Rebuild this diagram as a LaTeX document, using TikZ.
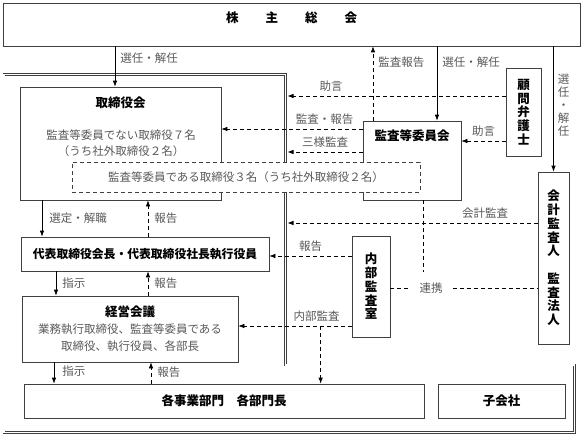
\documentclass[tikz,border=0pt]{standalone}
\usepackage{fontspec}
\setmainfont{Noto Sans CJK JP}
\usetikzlibrary{arrows.meta}
\newcommand{\boxfont}{\bfseries\fontsize{12.5}{13.75}\selectfont}
\newcommand{\tagfont}{\fontsize{11.5}{16}\selectfont}
\begin{document}
\begin{tikzpicture}[x=1pt,y=-1pt,line width=0.7pt,>={Latex[length=6pt,width=4.5pt]},
box/.style={draw=black!75,rectangle,inner sep=0pt,font=\boxfont},
tag/.style={text=black!65,font=\tagfont,inner sep=2pt},
dlink/.style={dash pattern=on 4pt off 3pt},
frame/.style={draw=black!75,double,double distance=1.6pt,line width=0.6pt}]
\useasboundingbox (0,0) rectangle (583,436);
% company frame
\draw[frame] (4,74.5) -- (285.5,74.5) -- (285.5,365) -- (574.5,365) -- (574.5,432.5) -- (4,432.5) -- cycle;
\coordinate (frmR) at (287.5,74.5);

\draw (291.5,24.5) node[box,minimum width=577pt,text height=20pt,text depth=23pt] (gm) {株\hspace{27pt}主\hspace{27pt}総\hspace{27pt}会};
\draw (120.5,143.5) node[box,minimum width=201pt,text height=20.75pt,text depth=92.25pt] (bod) {取締役会};
\draw (121,143) node[tag,align=center] (bodtxt) {監査等委員でない取締役７名\\（うち社外取締役２名）};
\draw (412,160.5) node[box,minimum width=98pt,text height=19pt,text depth=60pt] (aud) {監査等委員会};
\draw (523.5,112) node[box,minimum width=35pt,minimum height=88pt,align=center] (adv) {顧\\問\\弁\\護\\士};
\draw (553.5,258) node[box,minimum width=31pt,minimum height=172pt,align=center] (acc) {会\\計\\監\\査\\人\\[13.75pt]監\\査\\法\\人};
\draw (371,286.5) node[box,minimum width=38pt,minimum height=101pt,align=center] (iad) {内\\部\\監\\査\\室};
\draw (145,254) node[box,minimum width=248pt,minimum height=34pt,font=\bfseries\fontsize{11.8}{13}\selectfont] (rep) {代表取締役会長・代表取締役社長執行役員};
\draw (130,329) node[box,minimum width=216pt,minimum height=66pt,align=center,font=\fontsize{11.5}{17}\selectfont] (mtg) {{\boxfont 経営会議}\\{\color{black!65}業務執行取締役、監査等委員である}\\{\color{black!65}取締役、執行役員、各部長}};
\draw (224,401) node[box,minimum width=400pt,minimum height=34pt] (dept) {各事業部門　各部門長};
\draw (501.5,401) node[box,minimum width=127pt,minimum height=34pt] (sub) {子会社};
\draw (246,177) node[box,dlink,fill=white,minimum width=348pt,minimum height=30pt,tag] (aud3) {監査等委員である取締役３名（うち社外取締役２名）};
\draw (431,288) node[tag,inner xsep=10pt,inner ysep=10pt] (coop) {連携};

% appointments
\draw[->] ([xshift=-5.5pt]bod.north |- gm.south) -- node[tag,right=3pt,pos=0.29] (selB) {選任・解任} ([xshift=-5.5pt]bod.north);
\draw[->] ([xshift=25pt]aud.north |- gm.south) -- node[tag,right=3pt,pos=0.21] (selA) {選任・解任} ([xshift=25pt]aud.north);
\draw[dlink,->] ([xshift=-39pt]aud.north) -- node[tag,right=3pt,pos=0.79] (rptG) {監査報告} ([xshift=-39pt]aud.north |- gm.south);
\draw[->] (acc.north |- gm.south) -- node[tag,right=2pt,align=center,pos=0.47,font=\fontsize{11.5}{13}\selectfont] (selC) {選\\任\\・\\解\\任} (acc.north);

% audit and advice
\draw[dlink,->] ([yshift=16pt]adv.west) -- node[tag,above=2pt,pos=0.8] (advA) {助言} ([yshift=16pt]adv.west -| frmR);
\draw[dlink,->] ([yshift=31.5pt]aud.west) -- node[tag,above=2pt,pos=0.27] (audA) {監査・報告} ([yshift=31.5pt]aud.west -| bod.east);
\draw[dlink,->] ([yshift=8.5pt]aud.west) -- node[tag,above=2pt] (audB) {三様監査} ([yshift=8.5pt]aud.west -| frmR);
\draw[dlink,->] ([yshift=19.5pt]aud.east -| adv.west) -- node[tag,above=2pt] (advB) {助言} ([yshift=19.5pt]aud.east);
\draw[dlink,->] ([yshift=35pt]acc.west) -- node[tag,above=2pt,pos=0.21] (accA) {会計監査} ([yshift=35pt]acc.west -| frmR);
\draw[dlink,->] ([yshift=30.5pt]iad.west) -- node[tag,above=2pt] (iadA) {報告} ([yshift=30.5pt]iad.west -| rep.east);
\draw[dlink,->] ([yshift=-39.5pt]iad.west) -- node[tag,above=2pt,pos=0.31] (iadB) {内部監査} ([yshift=-39.5pt]iad.west -| mtg.east);
\path ([yshift=-39.5pt]iad.west) ++(-31,0) coordinate (iadC);
\draw[dlink,->] (iadC) -- (iadC |- dept.north);
% liaison
\draw[dlink] (coop.west -| iad.east) -- (coop.west);
\draw[dlink] (coop.east) -- (coop.east -| acc.west);
\draw[dlink] ([xshift=11pt]aud.south) -- ([xshift=11pt]aud.south |- coop.north);

% line of command
\draw[->] ([xshift=-78.5pt]bod.south) -- node[tag,right=5pt] (selD) {選定・解職} ([xshift=-78.5pt]bod.south |- rep.north);
\draw[dlink,->] ([xshift=27.5pt]bod.south |- rep.north) -- node[tag,right=4pt] (rptA) {報告} ([xshift=27.5pt]bod.south);
\draw[->] ([xshift=-89pt]rep.south) -- node[tag,right=4pt] (ordA) {指示} ([xshift=-89pt]rep.south |- mtg.north);
\draw[dlink,->] ([xshift=3pt]rep.south |- mtg.north) -- node[tag,right=4pt] (rptB) {報告} ([xshift=3pt]rep.south);
\draw[->] ([xshift=-76pt]mtg.south) -- node[tag,right=6pt,pos=0.4] (ordB) {指示} ([xshift=-76pt]mtg.south |- dept.north);
\draw[dlink,->] ([xshift=21pt]mtg.south |- dept.north) -- node[tag,right=4pt,pos=0.55] (rptC) {報告} ([xshift=21pt]mtg.south);
\end{tikzpicture}
\end{document}
